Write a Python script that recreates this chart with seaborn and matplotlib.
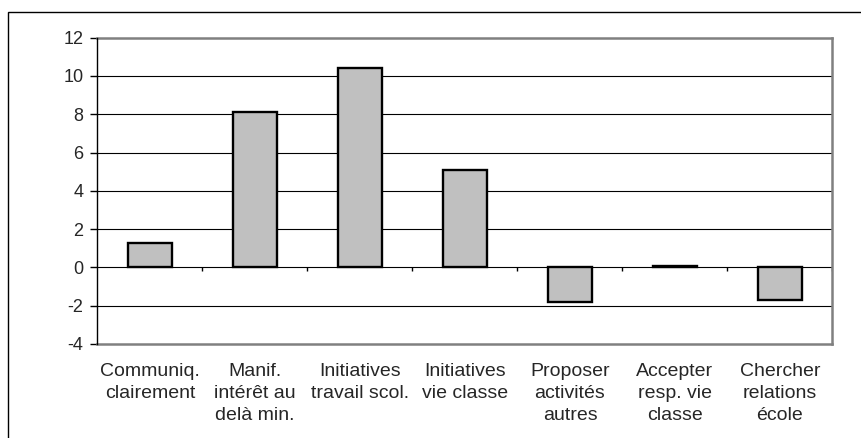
import numpy as np
import pandas as pd
import matplotlib
matplotlib.use("Agg")
import matplotlib.pyplot as plt
from matplotlib.patches import Rectangle
import seaborn as sns

# Categories (x-axis labels, wrapped on several lines)
categories = [
    "Communiq.\nclairement",
    "Manif.\nintérêt au\ndelà min.",
    "Initiatives\ntravail scol.",
    "Initiatives\nvie classe",
    "Proposer\nactivités\nautres",
    "Accepter\nresp. vie\nclasse",
    "Chercher\nrelations\nécole",
]
# Bar values
values = [1.3, 8.1, 10.4, 5.1, -1.8, 0.05, -1.7]
# Y-axis ticks
y_ticks = [-4, -2, 0, 2, 4, 6, 8, 10, 12]

df = pd.DataFrame({"cat": categories, "val": values})

sns.set_style("white")
plt.rcParams["font.family"] = ["Liberation Sans", "DejaVu Sans"]

W, H = 862, 438
fig = plt.figure(figsize=(W / 100, H / 100), dpi=100)
ax = fig.add_axes([97.5 / W, 1 - 344 / H, (832.5 - 97.5) / W, (344 - 37.7) / H])

sns.barplot(data=df, x="cat", y="val", ax=ax, color="#C0C0C0", saturation=1,
            edgecolor="black", linewidth=1.7, width=0.41, zorder=3)

ax.set_ylim(y_ticks[0], y_ticks[-1])
ax.set_xlim(-0.5, len(categories) - 0.5)
ax.set_yticks(y_ticks)
ax.set_yticklabels([str(t) for t in y_ticks])
ax.set_xlabel("")
ax.set_ylabel("")

# horizontal gridlines
for t in y_ticks[1:-1]:
    ax.axhline(t, color="black", linewidth=0.8, zorder=1)

# plot-area frame
for side in ["top", "right", "bottom"]:
    ax.spines[side].set_color("#808080")
    ax.spines[side].set_linewidth(1.8)
ax.spines["left"].set_color("black")
ax.spines["left"].set_linewidth(1.0)
ax.spines["left"].set_zorder(4)

ax.tick_params(axis="y", direction="out", length=5, width=1, color="black",
               pad=5, labelsize=13, left=True)
ax.tick_params(axis="x", length=0, pad=14, labelsize=14)
for lbl in ax.get_xticklabels():
    lbl.set_linespacing(1.38)

# category boundary tick marks hanging from the zero line
boundaries = np.arange(len(categories) + 1) - 0.5
tick_len = (y_ticks[-1] - y_ticks[0]) * 4.0 / (344 - 37.7)
ax.vlines(boundaries[1:], 0, -tick_len, color="black", linewidth=1.0, zorder=2)

# outer chart frame
fig.add_artist(Rectangle((8 / W, -0.2), 1.2, 1.2 - 12 / H,
                         transform=fig.transFigure, fill=False,
                         edgecolor="black", linewidth=1.0))

fig.savefig("out.png", dpi=100)
